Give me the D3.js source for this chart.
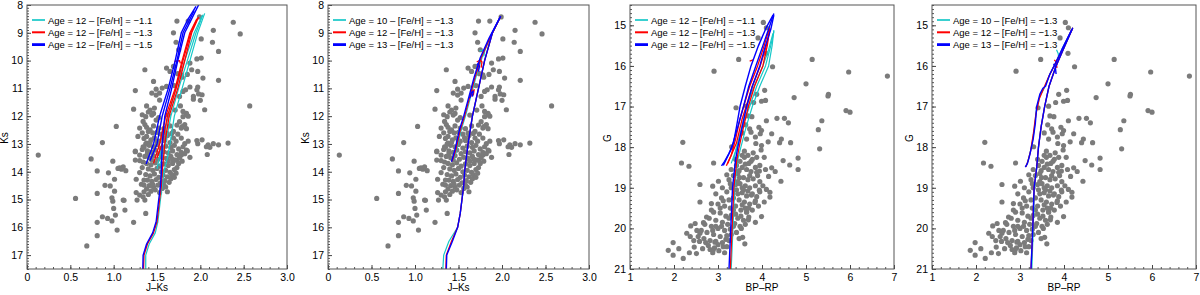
<!DOCTYPE html>
<html>
<head>
<meta charset="utf-8">
<script src="https://cdn.jsdelivr.net/npm/d3@7"></script>
<style>
body { margin: 0; background: #fff; }
text { font-family: "Liberation Sans", Arial, sans-serif; }
</style>
</head>
<body>
<svg id="chart" width="1200" height="295"></svg>
<script>
// stars, J-Ks vs Ks (panels 1 and 2)
var starsJK = [
  [1.99,8.43],[1.73,8.58],[1.86,8.58],[2.38,8.62],[2.15,8.91],[2.46,9.04],[1.69,9.0],[2.01,9.22],
  [2.14,9.34],[1.72,9.34],[1.75,9.61],[2.21,9.67],[1.96,9.94],[2.01,9.91],[1.88,10.09],[1.36,10.33],
  [1.61,10.27],[1.65,10.39],[1.97,10.39],[1.90,10.33],[1.78,10.51],[1.46,10.75],[2.03,10.63],[2.21,10.71],
  [1.61,10.93],[1.70,10.9],[1.25,11.08],[1.49,11.03],[1.56,10.99],[1.88,10.95],[1.97,10.95],[1.80,11.11],
  [1.98,11.2],[1.76,11.29],[1.49,11.24],[1.53,11.42],[1.92,11.39],[2.0,11.43],[2.57,11.63],[1.38,11.63],
  [1.42,11.78],[1.23,11.75],[1.47,11.71],[1.77,11.63],[2.05,11.77],[1.44,11.96],[1.84,11.9],[1.71,11.78],
  [1.80,12.02],[1.63,11.96],[1.37,12.02],[1.49,12.14],[1.86,12.0],[1.76,12.2],[1.36,12.3],[1.82,12.3],
  [1.03,12.37],[1.30,12.43],[1.42,12.49],[1.52,12.43],[1.69,12.55],[1.78,12.43],[1.61,12.61],[1.28,12.73],
  [1.38,12.73],[2.02,12.85],[1.69,12.79],[1.78,12.79],[1.59,12.85],[0.87,12.95],[1.38,12.97],[1.50,12.91],
  [1.82,12.99],[1.97,12.99],[2.09,13.03],[2.15,12.99],[2.21,13.03],[2.32,12.97],[1.34,13.1],
  [0.13,13.40],[0.74,13.54],[0.99,13.62],[0.81,13.97],[0.94,14.04],[1.05,13.88],[1.09,13.91],[1.14,13.96],
  [1.25,13.26],[1.25,13.58],[1.26,14.27],[1.30,14.03],[1.01,14.27],[0.90,14.49],[0.96,14.51],[1.01,14.70],
  [1.26,14.75],[1.30,14.84],[0.56,14.96],[0.81,14.78],[0.98,14.94],[0.99,15.06],[1.11,15.02],[1.12,15.03],
  [1.27,15.02],[1.34,14.9],[1.36,15.02],[1.35,14.72],[1.00,15.32],[1.13,15.38],[0.87,15.62],[0.93,15.68],
  [1.02,15.56],[1.37,15.5],[0.81,15.82],[0.98,15.77],[1.23,15.82],[1.04,16.1],[0.81,16.3],[0.69,16.67],
  [2.08,13.38],[1.84,13.22],[1.78,13.4],[1.73,13.58],
  [1.40,12.55],[1.45,12.6],[1.50,12.58],[1.55,12.65],[1.62,12.7],[1.35,12.8],[1.43,12.85],[1.47,12.78],
  [1.52,12.9],[1.58,12.88],[1.65,12.95],[1.72,12.9],[1.37,13.0],[1.41,13.05],[1.46,13.1],[1.50,13.02],
  [1.55,13.15],[1.60,13.08],[1.66,13.12],[1.70,13.05],[1.75,13.18],[1.80,13.1],[1.33,13.2],[1.39,13.25],
  [1.44,13.3],[1.48,13.22],[1.53,13.35],[1.58,13.28],[1.63,13.32],[1.68,13.25],[1.73,13.38],[1.78,13.3],
  [1.85,13.25],[1.36,13.45],[1.41,13.5],[1.46,13.42],[1.51,13.55],[1.56,13.48],[1.61,13.52],[1.66,13.45],
  [1.71,13.58],[1.76,13.5],[1.34,13.65],[1.38,13.7],[1.43,13.75],[1.48,13.68],[1.53,13.8],[1.58,13.72],
  [1.63,13.78],[1.68,13.7],[1.73,13.85],[1.40,13.9],[1.45,13.95],[1.50,13.88],[1.55,14.0],[1.60,13.95],
  [1.65,14.02],[1.70,13.92],[1.37,14.1],[1.42,14.15],[1.47,14.08],[1.52,14.2],[1.57,14.12],[1.62,14.18],
  [1.67,14.1],[1.39,14.3],[1.44,14.35],[1.49,14.28],[1.54,14.4],[1.59,14.32],[1.64,14.38],[1.41,14.5],
  [1.46,14.55],[1.51,14.48],[1.56,14.6],[1.38,14.62],[1.43,14.7],
  [1.69,10.21],[1.74,10.47],[1.79,10.6],[1.85,10.5],[1.44,11.17],[1.53,11.17],[1.83,11.05],[1.96,11.05],
  [1.92,11.29],[2.02,11.23],[1.40,11.85],[1.46,11.9],[1.33,11.95],[1.52,12.05],[1.80,11.83],[1.84,11.95],
  [1.73,12.32],[1.79,12.38],[1.84,12.45],[1.34,12.19],[1.38,12.4],[1.46,12.35],[1.58,12.45],[1.65,12.35],
  [2.07,13.1],[2.11,13.12],[1.86,12.9],[1.96,12.88],[1.82,13.35],[1.88,13.48],[1.25,13.28],[1.11,13.82],
  [1.07,13.86],[1.30,13.4],[1.30,13.6],[1.33,13.85],[1.35,14.3],[1.32,14.45],[1.48,14.65],[1.53,14.75],
  [1.60,14.55],[1.66,14.25],[1.70,14.2],[1.72,14.05],[1.75,13.7],[1.79,13.62],[1.68,13.55],[1.63,13.62],
  [1.44,13.58],[1.39,13.35],[1.35,13.12],[1.42,12.95],[1.57,12.78],[1.67,12.62],[1.74,12.65],[1.33,12.6],
  [1.45,14.45],[1.35,14.48],[1.58,14.48],[1.62,14.72],[1.40,14.82]
];

// stars, BP-RP vs G (panels 3 and 4)
var starsBR = [
  [4.03,14.93],[4.10,15.06],[3.91,15.31],[4.09,15.69],[3.47,15.84],[4.24,16.02],[5.14,15.84],[2.91,16.13],
  [5.97,16.15],[6.85,16.25],[5.0,16.44],[4.06,16.6],[3.88,16.7],[4.73,16.78],[5.51,16.7],[5.5,16.74],
  [4.08,16.85],[3.99,16.87],[3.41,17.03],[3.65,16.99],[3.81,16.9],[3.68,17.23],[3.77,17.25],[4.10,17.35],
  [4.34,17.29],[4.51,17.29],[4.6,17.4],[5.91,17.1],[6.0,17.14],[5.36,17.35],[3.63,17.45],[3.72,17.55],
  [3.93,17.51],[3.99,17.59],[3.96,17.67],[3.75,17.63],[4.22,17.67],[5.28,17.57],[4.44,17.8],[4.14,17.87],
  [3.86,17.91],[3.99,17.96],[4.65,17.89],[4.40,17.89],[2.20,17.88],[3.31,17.99],[5.31,18.04],
  [2.17,18.39],[2.34,18.47],[2.90,18.39],[3.98,18.07],[3.80,18.14],[4.48,18.33],[4.63,18.44],[4.82,18.27],
  [4.82,18.55],[4.22,18.51],[4.08,18.55],[3.94,18.59],[4.43,18.84],[3.20,18.68],[3.01,18.84],[2.88,18.96],
  [3.49,18.75],[2.59,19.35],[2.85,19.39],[2.74,19.72],[2.38,19.94],[2.48,19.88],[2.67,19.86],[2.29,20.12],
  [2.37,20.2],[2.59,20.12],[1.98,20.35],[1.87,20.54],[1.98,20.66],[2.11,20.5],[2.21,20.74],[2.35,20.6],
  [2.51,20.62],[2.46,20.46],[2.89,20.53],[2.93,20.34],[3.18,20.27],[3.56,20.22],[3.61,20.38],[3.99,19.71],
  [4.18,19.23],[4.18,19.11],[4.10,19.04],[3.94,19.06],[3.76,19.18],[3.84,19.36],[3.65,19.59],[3.69,19.79],
  [3.53,20.0],[2.59,18.92],
  [3.40,18.3],[3.50,18.35],[3.60,18.25],[3.70,18.4],[3.55,18.5],[3.65,18.55],[3.75,18.6],[3.85,18.5],
  [3.45,18.65],[3.35,18.7],[3.58,18.75],[3.68,18.8],[3.80,18.78],[3.90,18.7],[3.50,18.9],[3.62,18.95],
  [3.72,19.0],[3.85,18.95],[3.30,19.0],[3.42,19.05],[3.20,19.1],[3.55,19.12],[3.65,19.2],[3.78,19.15],
  [3.95,19.1],[3.08,19.25],[3.35,19.25],[3.48,19.3],[3.60,19.35],[3.72,19.4],[3.85,19.32],[3.00,19.4],
  [3.15,19.45],[3.28,19.5],[3.40,19.45],[3.52,19.55],[3.65,19.6],[3.78,19.55],[2.90,19.6],[3.05,19.62],
  [3.18,19.7],[3.30,19.68],[3.45,19.75],[3.58,19.8],[3.70,19.72],[2.80,19.75],[2.95,19.8],[3.10,19.85],
  [3.22,19.9],[3.38,19.88],[3.50,19.95],[2.70,19.9],[2.85,19.95],[3.00,20.0],[3.15,20.05],[3.28,20.02],
  [3.42,20.1],[2.62,20.05],[2.75,20.1],[2.90,20.15],[3.05,20.2],[3.20,20.18],[2.68,20.25],[2.82,20.3],
  [2.95,20.32],[3.10,20.35],[2.55,20.2],[2.78,20.42],[2.92,20.48],[3.02,20.55],[2.65,20.5],[3.12,20.45],
  [3.25,20.3],[3.55,19.0],[3.45,18.85],[3.75,18.35],[3.95,18.45],[3.88,18.25],[3.60,18.1],[3.30,18.55],
  [3.25,18.8],[3.10,19.0],[2.95,19.15],[3.40,19.65],[3.62,19.5],[3.35,19.95],[3.48,20.25],[3.15,20.6],
  [2.88,20.6],
  [3.55,18.2],[3.68,18.2],[3.78,18.3],[3.42,18.45],[3.62,18.42],[3.48,18.58],[3.88,18.62],[3.72,18.7],
  [3.95,18.85],[3.40,18.92],[3.28,18.9],[3.58,19.05],[3.68,19.08],[3.88,19.22],[3.45,19.15],[3.25,19.3],
  [3.12,19.32],[3.55,19.42],[3.70,19.5],[3.92,19.45],[3.35,19.55],[3.05,19.5],[2.85,19.55],[3.25,19.75],
  [3.52,19.7],[3.62,19.9],[2.95,19.95],[3.08,19.95],[3.30,20.15],[2.88,20.05],[2.72,20.35],[2.58,20.32],
  [3.00,20.4],[2.82,20.52],[3.20,20.45],[2.45,20.3],[2.52,20.05],[3.85,19.85],[4.05,19.35],[4.02,18.95],
  [3.65,17.8],[3.85,17.75],[3.55,17.65],[4.05,18.25],[4.3,18.6],[4.15,18.72]
];

// isochrones panel 1: age 12, [Fe/H] -1.1 / -1.3 / -1.5
var iso1Cyan = [
  [[1.37,17.5],[1.37,17.0],[1.41,16.6],[1.48,16.2],[1.51,15.8],[1.54,15.0],[1.56,14.5],[1.58,14.0],[1.62,13.5],[1.65,13.0],[1.70,12.0],[1.79,11.0],[1.88,10.0],[1.97,9.0],[2.05,8.3]],
  [[1.50,13.9],[1.56,13.0],[1.63,12.0],[1.72,11.0],[1.82,10.0],[1.93,9.0],[2.02,8.4]],
  [[1.53,13.8],[1.60,13.0],[1.66,12.0],[1.75,11.0],[1.85,10.0],[1.95,9.0],[2.03,8.35]]
];
var iso1Red = [
  [[1.345,17.5],[1.35,17.0],[1.39,16.6],[1.46,16.2],[1.50,15.8],[1.53,15.0],[1.55,14.5],[1.56,14.0],[1.59,13.0],[1.64,12.0],[1.74,11.0],[1.82,10.0],[1.90,9.0],[1.98,8.43]],
  [[1.46,13.7],[1.53,13.0],[1.60,12.0],[1.71,11.0],[1.79,10.0],[1.88,9.0],[1.96,8.5]],
  [[1.50,13.5],[1.56,13.0],[1.62,12.0],[1.72,11.0],[1.80,10.0],[1.89,9.0],[1.97,8.47]],
  [[1.70,10.03],[1.76,10.0],[1.77,10.1]]
];
var iso1Blue = [
  [[1.336,17.5],[1.34,17.0],[1.38,16.6],[1.45,16.2],[1.49,15.8],[1.52,15.0],[1.54,14.5],[1.55,14.0],[1.56,13.0],[1.59,12.0],[1.67,11.0],[1.74,10.0],[1.82,9.0],[1.90,8.5],[1.98,8.0]],
  [[1.375,13.72],[1.40,13.5],[1.46,13.0],[1.53,12.0],[1.63,11.0],[1.71,10.0],[1.78,9.0],[1.86,8.5],[1.95,8.05]],
  [[1.42,13.6],[1.50,13.0],[1.56,12.0],[1.65,11.0],[1.73,10.0],[1.80,9.0],[1.93,8.2]]
];

// isochrones panel 2: [Fe/H] -1.3, age 10 / 12 / 13
var iso2Cyan = [
  [[1.32,17.5],[1.33,17.0],[1.39,16.5],[1.49,16.0],[1.52,15.5],[1.54,15.0],[1.56,14.5],[1.57,14.0],[1.59,13.5],[1.61,13.0],[1.66,12.0],[1.73,11.0],[1.80,10.0],[1.89,9.0],[1.985,8.4]],
  [[1.44,13.6],[1.48,13.2],[1.53,12.5],[1.58,12.0],[1.64,11.3],[1.70,10.6],[1.77,9.9],[1.86,9.2],[1.98,8.43]],
  [[1.74,9.65],[1.78,9.62],[1.80,9.7],[1.79,9.85]]
];
var iso2Red = [
  [[1.355,17.5],[1.36,17.0],[1.42,16.5],[1.49,16.0],[1.52,15.5],[1.54,15.0],[1.56,14.5],[1.57,14.0],[1.59,13.5],[1.61,13.0],[1.66,12.0],[1.73,11.0],[1.80,10.0],[1.89,9.0],[1.985,8.4]],
  [[1.43,13.62],[1.47,13.2],[1.52,12.5],[1.57,12.0],[1.63,11.3],[1.69,10.6],[1.76,9.9],[1.86,9.2],[1.98,8.43]],
  [[1.71,10.05],[1.75,9.98],[1.77,10.05],[1.76,10.25]],
  [[1.64,11.3],[1.66,11.1],[1.68,11.05],[1.67,11.25]]
];
var iso2Blue = [
  [[1.36,17.5],[1.365,17.0],[1.43,16.5],[1.49,16.0],[1.52,15.5],[1.54,15.0],[1.56,14.5],[1.57,14.0],[1.59,13.5],[1.61,13.0],[1.66,12.0],[1.73,11.0],[1.80,10.0],[1.89,9.0],[1.985,8.4]],
  [[1.42,13.64],[1.46,13.2],[1.51,12.5],[1.56,12.0],[1.62,11.3],[1.68,10.6],[1.75,9.9],[1.85,9.2],[1.98,8.43]],
  [[1.71,10.15],[1.73,10.1],[1.74,10.2],[1.73,10.4]],
  [[1.63,11.35],[1.65,11.15],[1.67,11.1],[1.66,11.3]]
];

// isochrones panel 3: age 12, [Fe/H] -1.1 / -1.3 / -1.5
var iso3Cyan = [
  [[3.30,21],[3.34,20],[3.38,19],[3.45,18.3],[3.52,18.0],[3.64,17.5],[3.78,17.0],[3.95,16.5],[4.15,16.0],[4.23,15.5],[4.27,15.12]],
  [[3.30,18.4],[3.40,18.1],[3.52,17.6],[3.65,17.0],[3.82,16.5],[4.02,16.0],[4.15,15.6],[4.25,15.2]],
  [[3.35,18.3],[3.48,17.8],[3.58,17.4],[3.72,17.0],[3.88,16.5],[4.08,16.0],[4.20,15.5],[4.27,15.15]]
];
var iso3Red = [
  [[3.28,21],[3.32,20],[3.36,19],[3.43,18.3],[3.48,18.0],[3.58,17.5],[3.69,17.0],[3.83,16.5],[4.02,16.0],[4.12,15.5],[4.18,15.06]],
  [[3.19,18.46],[3.30,18.2],[3.40,17.8],[3.50,17.3],[3.58,17.0],[3.72,16.5],[3.90,16.0],[4.05,15.5],[4.16,15.1]],
  [[3.22,18.4],[3.42,17.9],[3.55,17.3],[3.64,17.0],[3.78,16.5],[3.96,16.0],[4.10,15.5],[4.18,15.1]],
  [[3.72,15.88],[3.80,15.85]]
];
var iso3Blue = [
  [[3.25,21],[3.29,20],[3.33,19],[3.40,18.3],[3.45,18.0],[3.55,17.5],[3.65,17.0],[3.78,16.5],[3.95,16.0],[4.08,15.5],[4.2,15.1],[4.27,14.75]],
  [[3.08,18.46],[3.15,18.35],[3.25,18.15],[3.35,17.9],[3.42,17.5],[3.50,17.0],[3.62,16.5],[3.75,16.0],[3.92,15.5],[4.10,15.05],[4.25,14.75]],
  [[3.12,18.45],[3.30,18.05],[3.45,17.5],[3.58,17.0],[3.70,16.5],[3.86,16.0],[4.02,15.5],[4.18,15.0],[4.27,14.71]]
];

// isochrones panel 4: [Fe/H] -1.3, age 10 / 12 / 13
var iso4Cyan = [
  [[3.27,21],[3.30,20],[3.33,19],[3.38,18.5],[3.42,18.0],[3.48,17.5],[3.56,17.0],[3.66,16.5],[3.82,16.0],[3.98,15.6],[4.2,15.06]],
  [[3.14,18.48],[3.19,18.3],[3.26,18.0],[3.32,17.6],[3.37,17.1],[3.45,16.75],[3.55,16.55],[3.68,16.2],[3.82,15.9],[3.97,15.55],[4.18,15.1]],
  [[3.83,15.6],[3.87,15.7],[3.88,15.85]]
];
var iso4Red = [
  [[3.25,21],[3.29,20],[3.32,19],[3.38,18.5],[3.42,18.0],[3.48,17.5],[3.56,17.0],[3.66,16.5],[3.82,16.0],[3.98,15.6],[4.2,15.06]],
  [[3.13,18.49],[3.18,18.35],[3.24,18.1],[3.30,17.7],[3.36,17.2],[3.44,16.8],[3.54,16.55],[3.66,16.25],[3.80,15.95],[3.96,15.6],[4.18,15.1]],
  [[3.78,15.85],[3.82,15.9],[3.84,16.05]]
];
var iso4Blue = [
  [[3.25,21],[3.29,20],[3.32,19],[3.38,18.5],[3.42,18.0],[3.48,17.5],[3.56,17.0],[3.66,16.5],[3.82,16.0],[3.98,15.6],[4.2,15.06]],
  [[3.12,18.49],[3.17,18.4],[3.22,18.2],[3.30,17.8],[3.35,17.4],[3.38,17.0],[3.45,16.7],[3.52,16.55],[3.58,16.5],[3.68,16.2],[3.80,15.95],[3.95,15.6],[4.18,15.1]],
  [[3.76,15.95],[3.80,16.0],[3.82,16.2]]
];

var legend1 = ["Age = 12 \u2013 [Fe/H] = \u22121.1", "Age = 12 \u2013 [Fe/H] = \u22121.3", "Age = 12 \u2013 [Fe/H] = \u22121.5"];
var legend2 = ["Age = 10 \u2013 [Fe/H] = \u22121.3", "Age = 12 \u2013 [Fe/H] = \u22121.3", "Age = 13 \u2013 [Fe/H] = \u22121.3"];

var ticksJK = [0, 0.5, 1.0, 1.5, 2.0, 2.5, 3.0];
var ticksKs = [8, 9, 10, 11, 12, 13, 14, 15, 16, 17];
var ticksBR = [1, 2, 3, 4, 5, 6, 7];
var ticksG = [15, 16, 17, 18, 19, 20, 21];

var colCyan = '#17c8c8', colRed = '#ff0000', colBlue = '#0000ff';

var panels = [
  { left: 27, right: 287, xDom: [0, 3], yDom: [8, 17.5], stars: starsJK, iso: [iso1Cyan, iso1Red, iso1Blue], legend: legend1,
    xTicks: ticksJK, yTicks: ticksKs, xMinor: 0.1, yMinor: 0.1, xFmt: function(d){ return d === 0 ? '0' : d3.format('.1f')(d) }, xLabel: 'J\u2013Ks', yLabel: 'Ks' },
  { left: 328, right: 589, xDom: [0, 3], yDom: [8, 17.5], stars: starsJK, iso: [iso2Cyan, iso2Red, iso2Blue], legend: legend2,
    xTicks: ticksJK, yTicks: ticksKs, xMinor: 0.1, yMinor: 0.1, xFmt: function(d){ return d === 0 ? '0' : d3.format('.1f')(d) }, xLabel: 'J\u2013Ks', yLabel: 'Ks' },
  { left: 630, right: 894, xDom: [1, 7], yDom: [14.5, 21], stars: starsBR, iso: [iso3Cyan, iso3Red, iso3Blue], legend: legend1,
    xTicks: ticksBR, yTicks: ticksG, xMinor: 0.2, yMinor: 0.1, xFmt: d3.format('d'), xLabel: 'BP\u2013RP', yLabel: 'G' },
  { left: 932, right: 1196, xDom: [1, 7], yDom: [14.5, 21], stars: starsBR, iso: [iso4Cyan, iso4Red, iso4Blue], legend: legend2,
    xTicks: ticksBR, yTicks: ticksG, xMinor: 0.2, yMinor: 0.1, xFmt: d3.format('d'), xLabel: 'BP\u2013RP', yLabel: 'G' }
];

var plotTop = 5, plotBottom = 269;
var svg = d3.select('#chart');
svg.append('rect').attr('width', 1200).attr('height', 295).attr('fill', '#fff');

panels.forEach(function(p, i) {
  var x = d3.scaleLinear().domain(p.xDom).range([p.left, p.right]);
  var y = d3.scaleLinear().domain(p.yDom).range([plotTop, plotBottom]);
  var g = svg.append('g');

  var clipId = 'clip' + i;
  g.append('clipPath').attr('id', clipId).append('rect')
    .attr('x', p.left).attr('y', plotTop).attr('width', p.right - p.left).attr('height', plotBottom - plotTop);

  var plot = g.append('g').attr('clip-path', 'url(#' + clipId + ')');

  plot.selectAll('circle').data(p.stars).enter().append('circle')
    .attr('cx', function(d){ return x(d[0]) })
    .attr('cy', function(d){ return y(d[1]) })
    .attr('r', 2.6)
    .attr('fill', '#7b7b7b');

  var line = d3.line().x(function(d){ return x(d[0]) }).y(function(d){ return y(d[1]) });
  var cols = [colCyan, colRed, colBlue], widths = [1.2, 1.3, 1.4];
  p.iso.forEach(function(set, k) {
    set.forEach(function(seg) {
      plot.append('path').attr('d', line(seg)).attr('fill', 'none')
        .attr('stroke', cols[k]).attr('stroke-width', widths[k]).attr('stroke-linejoin', 'round');
    });
  });

  // axes with inward ticks
  var xAxis = d3.axisBottom(x).tickValues(p.xTicks).tickFormat(p.xFmt).tickSizeInner(-4).tickSizeOuter(0).tickPadding(5);
  var yAxis = d3.axisLeft(y).tickValues(p.yTicks).tickFormat(d3.format('d')).tickSizeInner(-4).tickSizeOuter(0).tickPadding(4);
  var xMin = d3.range(p.xDom[0], p.xDom[1] + 1e-9, p.xMinor);
  var yMin = d3.range(p.yDom[0], p.yDom[1] + 1e-9, p.yMinor);

  g.append('g').attr('transform', 'translate(0,' + plotBottom + ')')
    .call(d3.axisBottom(x).tickValues(xMin).tickFormat('').tickSizeInner(-2).tickSizeOuter(0))
    .call(function(s){ s.select('.domain').remove(); s.selectAll('line').attr('stroke', '#555') });
  g.append('g').attr('transform', 'translate(' + p.left + ',0)')
    .call(d3.axisLeft(y).tickValues(yMin).tickFormat('').tickSizeInner(-2).tickSizeOuter(0))
    .call(function(s){ s.select('.domain').remove(); s.selectAll('line').attr('stroke', '#555') });

  g.append('g').attr('transform', 'translate(0,' + plotBottom + ')').call(xAxis)
    .call(function(s){ s.select('.domain').remove(); s.selectAll('line').attr('stroke', '#444');
      s.selectAll('text').attr('font-size', 10.5).attr('fill', '#000').attr('font-family', '"Liberation Sans", Arial, sans-serif') });
  g.append('g').attr('transform', 'translate(' + p.left + ',0)').call(yAxis)
    .call(function(s){ s.select('.domain').remove(); s.selectAll('line').attr('stroke', '#444');
      s.selectAll('text').attr('font-size', 10.5).attr('fill', '#000').attr('font-family', '"Liberation Sans", Arial, sans-serif') });

  g.append('rect').attr('x', p.left).attr('y', plotTop).attr('width', p.right - p.left).attr('height', plotBottom - plotTop)
    .attr('fill', 'none').attr('stroke', '#555').attr('stroke-width', 1);

  g.append('text').attr('x', (p.left + p.right) / 2).attr('y', 291).attr('text-anchor', 'middle')
    .attr('font-size', 10).text(p.xLabel);
  g.append('text').attr('transform', 'translate(' + (p.left - 19) + ',138) rotate(-90)').attr('text-anchor', 'middle')
    .attr('font-size', 10).text(p.yLabel);

  // legend
  var lg = g.append('g').attr('transform', 'translate(' + (p.left + 5) + ',20)');
  p.legend.forEach(function(t, k) {
    lg.append('line').attr('x1', 0).attr('x2', 13).attr('y1', k * 12.3).attr('y2', k * 12.3)
      .attr('stroke', cols[k]).attr('stroke-width', [1.7, 2, 2.8][k]);
    lg.append('text').attr('x', 16).attr('y', k * 12.3 + 3.5).attr('font-size', 9.5).text(t);
  });
});
</script>
</body>
</html>
